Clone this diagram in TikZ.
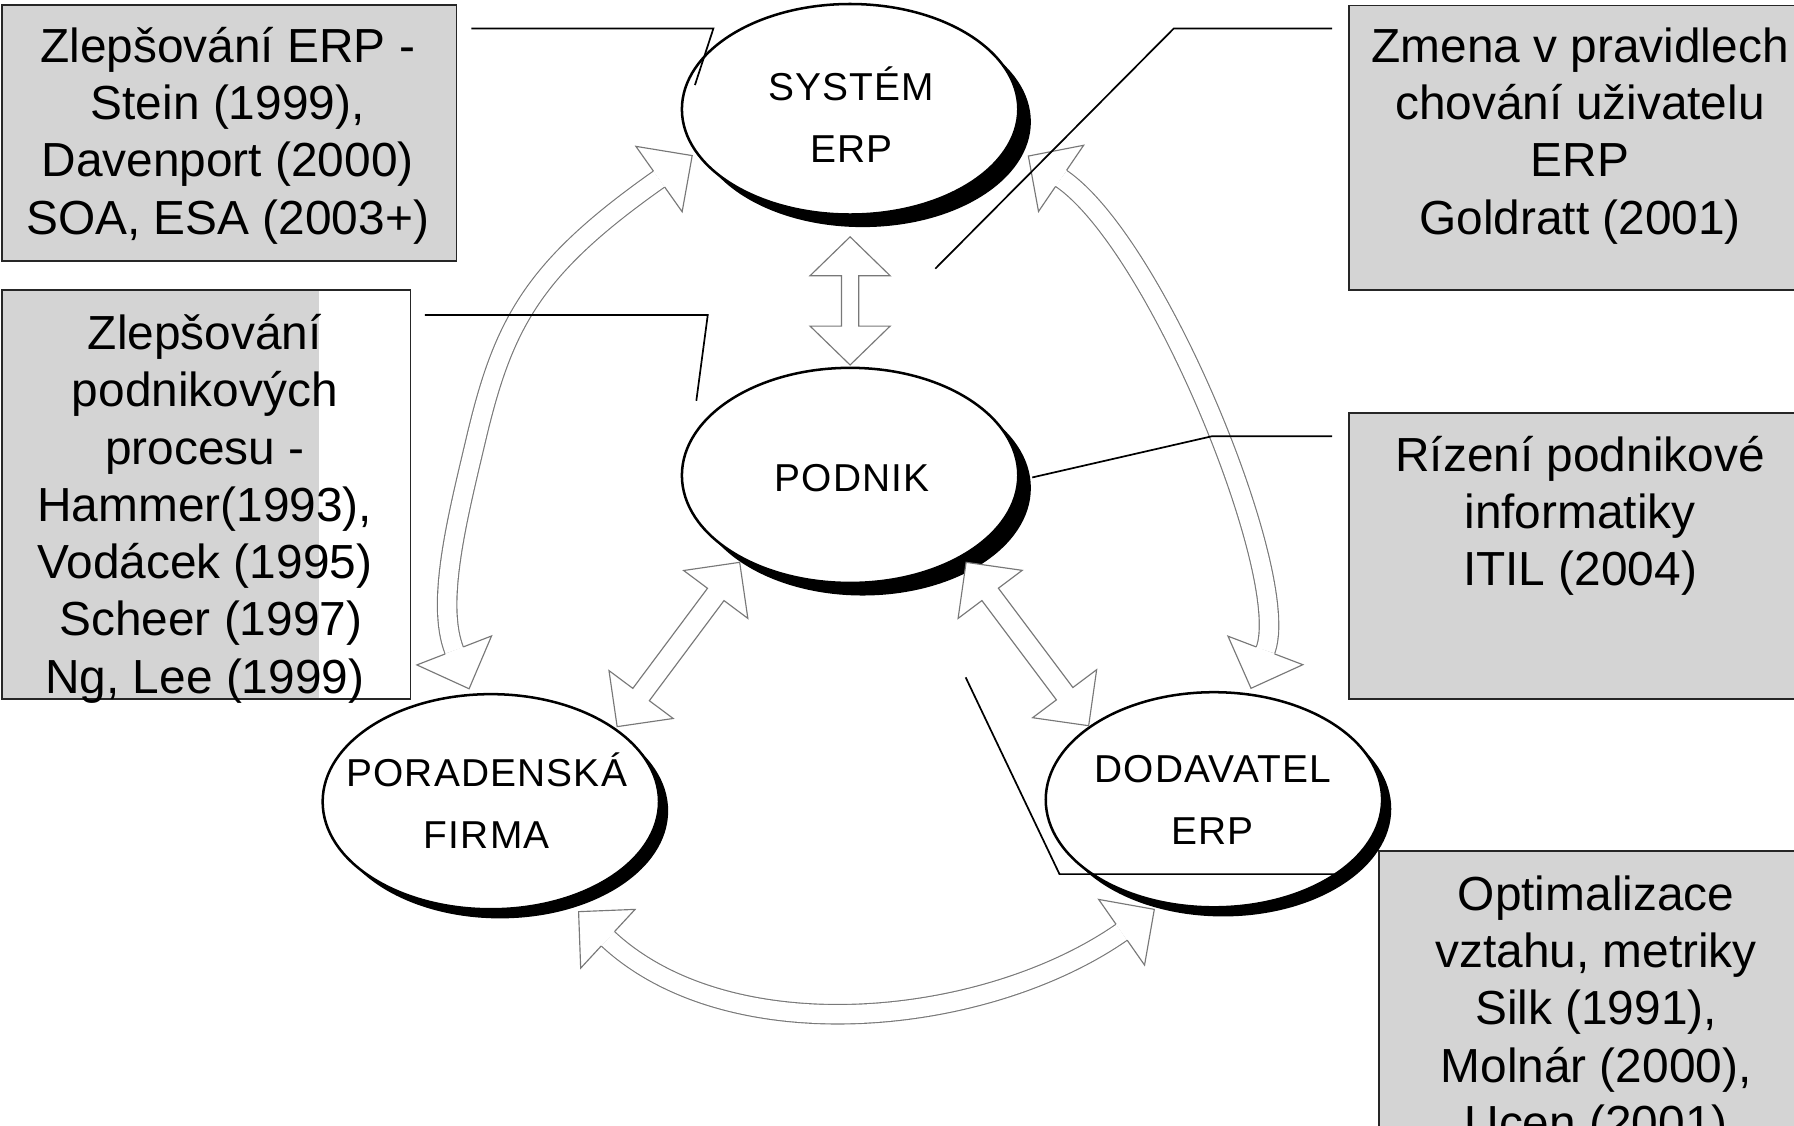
\documentclass[tikz,border=0pt]{standalone}
\usepackage{fontspec}
\setmainfont{Liberation Sans}
\newfontfamily\ellfont[LetterSpace=3]{Liberation Sans}
\usetikzlibrary{calc,shapes.geometric,shadows}
\definecolor{boxgray}{RGB}{212,212,212}
\definecolor{arrgray}{RGB}{120,120,120}
% straight hollow double arrow: #1 tip A, #2 tip B, #3 head length, #4 head half width, #5 shaft half width
\newcommand\hollowdbl[5]{%
  \coordinate (hA) at ($(#1)!#3!(#2)$);
  \coordinate (hB) at ($(#2)!#3!(#1)$);
  \draw[arrowline] (#1)
    -- ($(hA)!#4!-90:(#2)$) -- ($(hA)!#5!-90:(#2)$)
    -- ($(hB)!#5!90:(#1)$) -- ($(hB)!#4!90:(#1)$)
    -- (#2)
    -- ($(hB)!#4!-90:(#1)$) -- ($(hB)!#5!-90:(#1)$)
    -- ($(hA)!#5!90:(#2)$) -- ($(hA)!#4!90:(#2)$) -- cycle;}
% hollow head: #1 tip, #2 base centre, #3 half width, #4 shaft half width
\newcommand\hollowhead[4]{%
  \draw[arrowline] ($(#2)!#4!90:(#1)$) -- ($(#2)!#3!90:(#1)$) -- (#1)
    -- ($(#2)!#3!-90:(#1)$) -- ($(#2)!#4!-90:(#1)$);}
\begin{document}
\begin{tikzpicture}[x=0.5pt,y=-0.5pt,
  box/.style={draw=black!85, line width=0.75pt, fill=boxgray},
  boxframe/.style={draw=black!85, line width=0.75pt},
  boxtext/.style={inner sep=0pt, align=center, font=\fontsize{20.9}{25}\selectfont},
  ell/.style={ellipse, draw=black, line width=1.1pt, fill=white, inner sep=0pt,
    minimum width=147pt, minimum height=94pt},
  bigshadow/.style={drop shadow={shadow xshift=5.5pt, shadow yshift=-5.5pt, fill=black, opacity=1}},
  smallshadow/.style={drop shadow={shadow xshift=4pt, shadow yshift=-4pt, fill=black, opacity=1}},
  elltext/.style={inner sep=0pt, align=center, font=\ellfont\fontsize{17}{27}\selectfont},
  arrowline/.style={draw=arrgray, line width=0.5pt, fill=white, line join=miter},
  hollow/.style={draw=arrgray, line width=0.5pt, double=white, double distance=8pt},
  leader/.style={draw=black, line width=0.75pt}]
\useasboundingbox (0,0) rectangle (1568,983.3);
\clip (0,0) rectangle (1568,983.3);
\fill[white] (0,0) rectangle (1568,983.3);

% ---- boxes
\draw[box] (1.5,4.5) rectangle (399,228);
\fill[boxgray] (1.5,253.6) rectangle (279,610.8);
\draw[boxframe] (1.5,253.6) rectangle (358.7,610.8);
\draw[box] (1178.8,4.8) rectangle (1590,253.6);
\draw[box] (1178.8,361.2) rectangle (1590,610.8);
\draw[box] (1205,744) rectangle (1590,1010);

\node[boxtext] (t1) at (199,119.7) {\strut Zlepšování ERP -\\Stein (1999),\\Davenport (2000)\\SOA, ESA (2003+)\strut};
\node[boxtext] (t2) at (179,445.7) {\strut Zlepšování\\podnikových\\procesu -\\Hammer(1993),\\Vodácek (1995)\\\hspace*{0.25em}Scheer (1997)\\Ng, Lee (1999)\strut};
\node[boxtext] (t3) at (1381,119.7) {\strut Zmena v pravidlech\\chování uživatelu\\ERP\\Goldratt (2001)\strut};
\node[boxtext] (t4) at (1381,451.7) {\strut Rízení podnikové\\informatiky\\ITIL (2004)\strut};
\node[boxtext] (t5) at (1395,885.7) {\strut Optimalizace\\vztahu, metriky\\Silk (1991),\\Molnár (2000),\\Ucen (2001)\strut};

% ---- ellipses
\node[ell, bigshadow, minimum height=92pt] (sys) at (743,95.5) {};
\node[ell, bigshadow] (pod) at (743,415.5) {};
\node[ell, smallshadow] (por) at (429,700.7) {};
\node[ell, smallshadow] (dod) at (1061,699) {};
\node[elltext] (syst) at (744,104.4) {\strut SYSTÉM\\ERP\strut};
\node[elltext] (podt) at (745,418.4) {\strut PODNIK\strut};
\node[elltext] (port) at (425.4,703.4) {\strut PORADENSKÁ\\FIRMA\strut};
\node[elltext] (dodt) at (1060,700.4) {\strut DODAVATEL\\ERP\strut};

% ---- straight hollow double arrows
\coordinate (va) at (743,207);   \coordinate (vb) at (743,319);
\hollowdbl{va}{vb}{17pt}{17.5pt}{3.75pt}
\coordinate (la) at (646.5,491.5); \coordinate (lb) at (539.4,635.1);
\hollowdbl{la}{lb}{17.5pt}{17.5pt}{4.5pt}
\coordinate (ra) at (844.4,491.5); \coordinate (rb) at (951.5,634.3);
\hollowdbl{ra}{rb}{17.5pt}{17.5pt}{4.5pt}

% ---- curved hollow double arrows
\coordinate (lt1) at (605,136);    \coordinate (lc1) at (576,156.5);
\coordinate (lt2) at (410,602);    \coordinate (lc2) at (397,568.5);
\draw[hollow] (lc1) .. controls (466,234) and (440,282) .. (416,384)
  .. controls (400,452) and (380.7,526.6) .. (lc2);
\hollowhead{lt1}{lc1}{17.5pt}{4.25pt}
\hollowhead{lt2}{lc2}{17.5pt}{4.25pt}

\coordinate (rt1) at (898.8,136.4); \coordinate (rc1) at (927.4,155.9);
\coordinate (rt2) at (1093.4,601.6); \coordinate (rc2) at (1106,568.5);
\draw[hollow] (rc1) .. controls (1012,213.7) and (1130,505) .. (rc2);
\hollowhead{rt1}{rc1}{17.5pt}{4.25pt}
\hollowhead{rt2}{rc2}{17.5pt}{4.25pt}

\coordinate (bt1) at (505.7,796.8); \coordinate (bc1) at (531.3,820.5);
\coordinate (bt2) at (1008.9,794.8); \coordinate (bc2) at (980.3,814.8);
\draw[hollow] (bc1) .. controls (637.9,919.8) and (860.6,898) .. (bc2);
\hollowhead{bt1}{bc1}{17.5pt}{4.25pt}
\hollowhead{bt2}{bc2}{17.5pt}{4.25pt}

% ---- leader lines
\coordinate (l1s) at (412,25);     \coordinate (l1e) at (607.4,74.3);
\draw[leader] (l1s) -- (623.5,25) -- (l1e);
\coordinate (l2s) at (371.3,275.3); \coordinate (l2e) at (608.6,350.3);
\draw[leader] (l2s) -- (618.6,275.3) -- (l2e);
\coordinate (l3s) at (1164.4,24.9); \coordinate (l3e) at (817.5,234.8);
\draw[leader] (l3s) -- (1025.9,24.9) -- (l3e);
\coordinate (l4s) at (1164.4,381.2); \coordinate (l4e) at (902.2,417.3);
\draw[leader] (l4s) -- (1059.7,381.2) -- (l4e);
\coordinate (l5s) at (844,592);    \coordinate (l5e) at (1166,764);
\draw[leader] (l5s) -- (926,764) -- (l5e);
\end{tikzpicture}
\end{document}
